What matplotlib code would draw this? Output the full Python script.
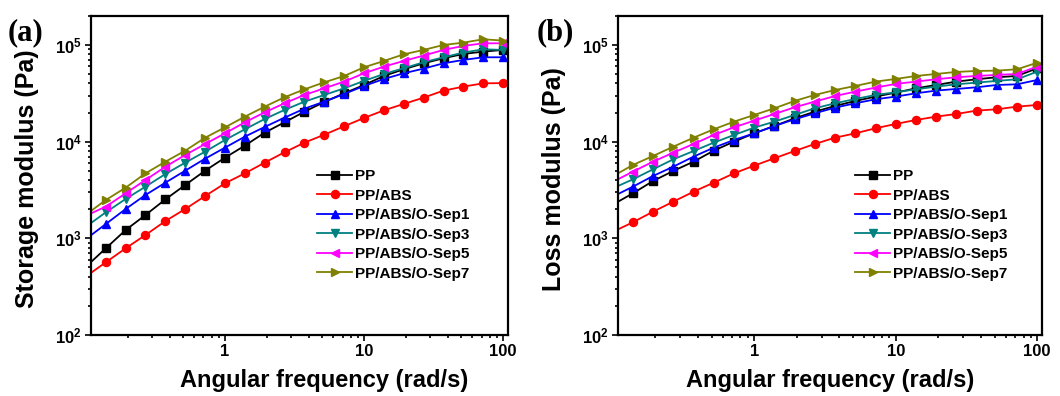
import math
import matplotlib
matplotlib.use("Agg")
import matplotlib.pyplot as plt
from matplotlib.ticker import FixedLocator, FuncFormatter, LogLocator, NullFormatter

plt.rcParams['font.family'] = ['Liberation Sans', 'DejaVu Sans']
plt.rcParams['mathtext.fontset'] = 'custom'
plt.rcParams['mathtext.bf'] = 'Liberation Sans:bold'
plt.rcParams['mathtext.rm'] = 'Liberation Sans:bold'

# angular frequency, 7 points per decade from 0.1 to 100 rad/s
freq = [0.1, 0.139, 0.193, 0.268, 0.373, 0.518, 0.720, 1.0, 1.39, 1.93, 2.68,
        3.73, 5.18, 7.20, 10.0, 13.9, 19.3, 26.8, 37.3, 51.8, 72.0, 100.0]

labels = ['PP', 'PP/ABS', 'PP/ABS/O-Sep1', 'PP/ABS/O-Sep3', 'PP/ABS/O-Sep5', 'PP/ABS/O-Sep7']
colors = ['#000000', '#ff0000', '#0000ff', '#008080', '#ff00ff', '#808000']
markers = ['s', 'o', '^', 'v', '<', '>']

# storage modulus G' (Pa)
g1_pp = [509, 789, 1219, 1742, 2531, 3565, 5012, 6825, 9100, 12390, 15850,
         20420, 25720, 31620, 38550, 47780, 56000, 64600, 72800, 80700, 85300, 88800]
g1_abs = [404, 565, 789, 1082, 1510, 2011, 2740, 3706, 4700, 6067, 7762,
          9770, 11800, 14420, 17580, 21090, 24530, 28510, 33700, 37060, 40100, 40300]
g1_sep1 = [984, 1406, 2011, 2808, 3767, 5012, 6670, 8670, 11270, 14190, 17710,
           21950, 25940, 31120, 37670, 44480, 50930, 56900, 64600, 69980, 74550, 74550]
g1_sep3 = [1321, 1858, 2553, 3423, 4630, 6067, 7880, 10400, 13420, 17150, 21280,
           25940, 30400, 35620, 42460, 50120, 57400, 66200, 74550, 83360, 90200, 88800]
g1_sep5 = [1715, 2128, 2922, 4010, 5510, 7280, 9460, 12190, 15850, 20100, 24930,
           30400, 35620, 41780, 50930, 59700, 68300, 77600, 88800, 97700, 104000, 104000]
g1_sep7 = [1758, 2493, 3342, 4700, 6210, 8070, 10990, 14060, 18140, 23010, 28770,
           34760, 41100, 47780, 58750, 68300, 80000, 88800, 100000, 105700, 114500, 110900]

# loss modulus G'' (Pa)
g2_pp = [2228, 2922, 3917, 4977, 6210, 8070, 10000, 12190, 14520, 17430, 20420,
         23390, 26350, 29220, 32140, 35620, 38550, 41780, 44160, 46340, 47780, 57400]
g2_abs = [1164, 1466, 1888, 2393, 3040, 3767, 4700, 5650, 6730, 8000, 9460,
          10990, 12190, 13740, 15240, 16750, 18140, 19320, 20940, 21600, 23010, 23950]
g2_sep1 = [2698, 3423, 4416, 5510, 7000, 8670, 10400, 12190, 14520, 17020, 19640,
           22480, 24930, 27420, 29220, 31620, 33700, 35060, 36480, 38550, 39160, 43450]
g2_sep3 = [3289, 4074, 5176, 6560, 8000, 9770, 11720, 13960, 16100, 18880, 22130,
           24930, 27620, 30400, 32390, 34760, 37060, 39160, 40790, 42460, 44160, 52970]
g2_sep5 = [3828, 4898, 6210, 7690, 9460, 11720, 14060, 16490, 19320, 22650, 25940,
           29650, 32890, 36220, 39530, 41780, 44160, 46340, 47780, 48980, 50120, 59700]
g2_sep7 = [4376, 5740, 7110, 8870, 10990, 13420, 16100, 18880, 22130, 26350, 30400,
           34200, 37670, 41780, 44480, 47780, 50120, 52600, 53830, 54250, 56000, 65600]

storage = [g1_pp, g1_abs, g1_sep1, g1_sep3, g1_sep5, g1_sep7]
loss = [g2_pp, g2_abs, g2_sep1, g2_sep3, g2_sep5, g2_sep7]

fig = plt.figure(figsize=(10.6, 3.96), dpi=100)
ax1 = fig.add_axes([0.086, 0.154, 0.393, 0.806])
ax2 = fig.add_axes([0.583, 0.154, 0.400, 0.806])


def style_panel(ax, data, ylabel, ylabel_x, xlabel_x, legend_x):
    for vals, lab, col, mk in zip(data, labels, colors, markers):
        ax.plot(freq, vals, color=col, marker=mk, markersize=5.8, lw=1.3, label=lab)
    ax.set_xscale('log')
    ax.set_yscale('log')
    ax.set_xlim(0.109, 108)
    ax.set_ylim(100, 2e5)

    ax.xaxis.set_major_locator(FixedLocator([1, 10, 100]))
    ax.xaxis.set_major_formatter(FuncFormatter(lambda v, p: '%g' % v))
    ax.xaxis.set_minor_locator(LogLocator(base=10, subs=range(2, 10), numticks=20))
    ax.xaxis.set_minor_formatter(NullFormatter())
    ax.yaxis.set_major_locator(FixedLocator([1e2, 1e3, 1e4, 1e5]))
    ax.yaxis.set_major_formatter(FuncFormatter(lambda v, p: r'$\mathbf{10^{%d}}$' % round(math.log10(v))))
    ax.yaxis.set_minor_locator(LogLocator(base=10, subs=range(2, 10), numticks=20))
    ax.yaxis.set_minor_formatter(NullFormatter())

    ax.tick_params(which='both', direction='out', top=False, right=False, width=1.2)
    ax.tick_params(which='major', length=4.5, pad=2, labelsize=12)
    ax.tick_params(which='minor', length=2.5)
    for lbl in ax.get_xticklabels():
        lbl.set_fontweight('bold')
    for sp in ax.spines.values():
        sp.set_linewidth(1.6)

    ax.set_ylabel(ylabel, fontsize=18, fontweight='bold')
    ax.yaxis.set_label_coords(ylabel_x, 0.49)
    ax.set_xlabel('Angular frequency (rad/s)', fontsize=17, fontweight='bold')
    ax.xaxis.set_label_coords(xlabel_x, -0.105)

    leg = ax.legend(loc='center left', bbox_to_anchor=(legend_x, 0.345), frameon=False,
                    fontsize=11, handlelength=2.3, handletextpad=0.2, labelspacing=0.36,
                    borderpad=0, borderaxespad=0)
    for t in leg.get_texts():
        t.set_fontweight('bold')


style_panel(ax1, storage, 'Storage modulus (Pa)', -0.125, 0.56, 0.542)
style_panel(ax2, loss, 'Loss modulus (Pa)', -0.122, 0.5, 0.559)

fig.text(0.007, 0.918, '(a)', fontsize=22, fontweight='bold', family='Liberation Serif', va='center')
fig.text(0.506, 0.918, '(b)', fontsize=22, fontweight='bold', family='Liberation Serif', va='center')

fig.savefig('out.png', dpi=100)
